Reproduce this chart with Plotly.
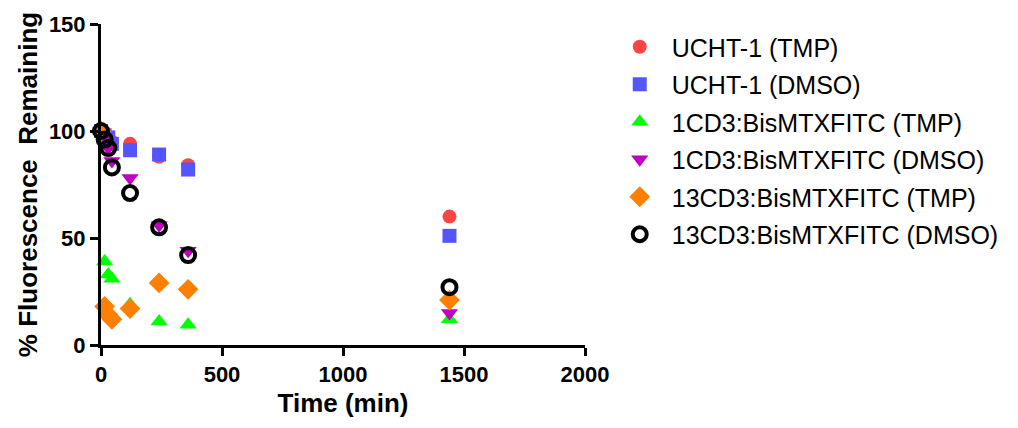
import plotly.graph_objects as go

time = [0, 15, 30, 45, 120, 240, 360, 1440]
names = ["UCHT-1 (TMP)", "UCHT-1 (DMSO)", "1CD3:BisMTXFITC (TMP)",
         "1CD3:BisMTXFITC (DMSO)", "13CD3:BisMTXFITC (TMP)", "13CD3:BisMTXFITC (DMSO)"]
ucht_tmp = [100, 99, 97, 95, 94, 88, 84, 60]
ucht_dmso = [100, 98, 97, 94, 91, 89, 82, 51]
cd1_tmp = [100, 39, 33, 31, 19, 11, 9.5, 12]
cd1_dmso = [100, 97, 92, 86, 78, 56, 44, 15]
cd13_tmp = [100, 18, 14, 12, 17, 29, 26, 21]
cd13_dmso = [100, 96, 92, 83, 71, 55, 42, 27]

series = [ucht_tmp, ucht_dmso, cd1_tmp, cd1_dmso, cd13_tmp, cd13_dmso]
colors = ["#FF4444", "#5555FF", "#00FF00", "#BF00BF", "#FF8000", "#000000"]
symbols = ["circle", "square", "triangle-up", "triangle-down", "diamond", "circle-open"]
sizes = [14, 14, 15, 15, 16, 14]

fig = go.Figure()
for i, (n, ys) in enumerate(zip(names, series)):
    mk = dict(symbol=symbols[i], color=colors[i], size=sizes[i])
    if symbols[i] == "circle-open":
        mk["line"] = dict(color=colors[i], width=4)
    else:
        mk["line"] = dict(width=0)
    fig.add_trace(go.Scatter(x=time, y=ys, mode="markers", name=n, marker=mk,
                             legendgroup=str(i), cliponaxis=False))

tick_font = dict(family="Liberation Sans, Arial", size=22, color="black", weight="bold")
title_font = dict(family="Liberation Sans, Arial", size=26, color="black", weight="bold")
fig.update_layout(
    width=1018, height=428,
    margin=dict(l=101, r=433, t=22, b=83),
    plot_bgcolor="white", paper_bgcolor="white",
    showlegend=True,
    legend=dict(x=1.047, y=1.0, xanchor="left", yanchor="top",
                font=dict(family="Liberation Sans, Arial", size=25, color="black"),
                tracegroupgap=2, itemwidth=54),
    xaxis=dict(range=[0, 2000], tickvals=[0, 500, 1000, 1500, 2000],
               showline=True, linecolor="black", linewidth=3, showgrid=False, zeroline=False,
               ticks="outside", ticklen=8, tickwidth=3, tickcolor="black",
               tickfont=tick_font,
               title=dict(text="Time (min)", font=title_font, standoff=8)),
    yaxis=dict(range=[0, 150], tickvals=[0, 50, 100, 150],
               showline=True, linecolor="black", linewidth=3, showgrid=False, zeroline=False,
               ticks="outside", ticklen=8, tickwidth=3, tickcolor="black",
               tickfont=tick_font,
               title=dict(text="% Fluorescence  Remaining", font=title_font, standoff=4)),
)
fig.write_html("out.html")
